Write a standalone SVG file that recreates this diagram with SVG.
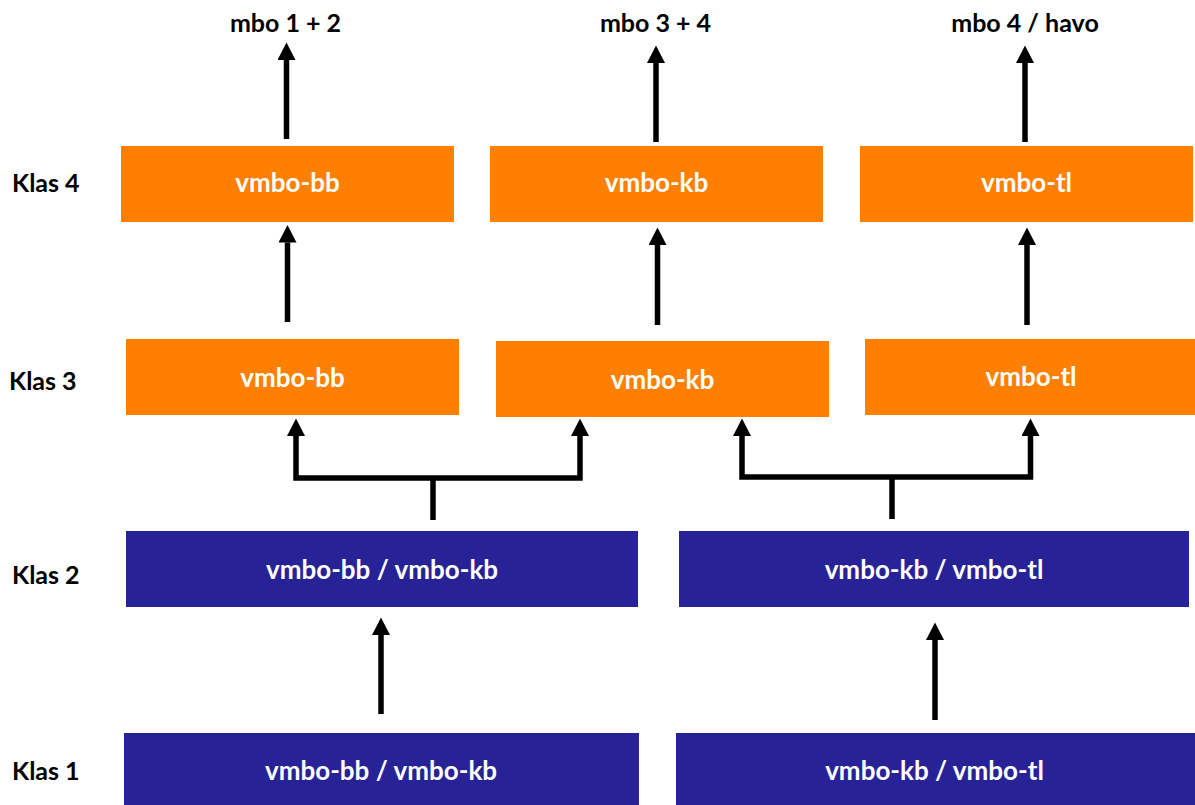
<svg xmlns="http://www.w3.org/2000/svg" width="1195" height="805" viewBox="0 0 1195 805">
<style>
  .or { fill: #FF7F00; }
  .bl { fill: #272296; }
  .bt { font-family: Lato, "Open Sans", sans-serif; font-weight: bold; font-size: 26px; fill: #FFFFFF; text-anchor: middle; }
  .lb { font-family: Lato, "Open Sans", sans-serif; font-weight: bold; font-size: 25px; fill: #000000; }
  .tp { font-family: Lato, "Open Sans", sans-serif; font-weight: bold; font-size: 25px; fill: #000000; text-anchor: middle; }
  .cn { fill: none; stroke: #000000; stroke-width: 5.5; stroke-linejoin: miter; stroke-linecap: butt; }
</style>
<defs>
  <marker id="ah" markerUnits="userSpaceOnUse" markerWidth="18" markerHeight="18" refX="0" refY="9" orient="auto-start-reverse">
    <path d="M0,0 L17.5,9 L0,18 Z" fill="#000000"/>
  </marker>
</defs>
<rect width="1195" height="805" fill="#FFFFFF"/>

<g id="labels">
  <text class="tp" x="285.5" y="32">mbo 1 + 2</text>
  <text class="tp" x="655.5" y="32">mbo 3 + 4</text>
  <text class="tp" x="1025" y="32">mbo 4 / havo</text>
  <text class="lb" x="12" y="192">Klas 4</text>
  <text class="lb" x="9" y="390">Klas 3</text>
  <text class="lb" x="12" y="584">Klas 2</text>
  <text class="lb" x="12" y="780">Klas 1</text>
</g>

<g id="k4-bb"><rect class="or" x="121" y="146" width="333" height="76"/><text class="bt" x="287.5" y="192">vmbo-bb</text></g>
<g id="k4-kb"><rect class="or" x="490" y="146" width="333" height="76"/><text class="bt" x="656.5" y="192">vmbo-kb</text></g>
<g id="k4-tl"><rect class="or" x="860" y="146" width="333" height="76"/><text class="bt" x="1026.5" y="192">vmbo-tl</text></g>

<g id="k3-bb"><rect class="or" x="126" y="339" width="333" height="76"/><text class="bt" x="292.5" y="387">vmbo-bb</text></g>
<g id="k3-kb"><rect class="or" x="496" y="341" width="333" height="76"/><text class="bt" x="662.5" y="389">vmbo-kb</text></g>
<g id="k3-tl"><rect class="or" x="865" y="339" width="330" height="76"/><text class="bt" x="1031" y="386">vmbo-tl</text></g>

<g id="k2-bbkb"><rect class="bl" x="126" y="531" width="512" height="76"/><text class="bt" x="382" y="579">vmbo-bb / vmbo-kb</text></g>
<g id="k2-kbtl"><rect class="bl" x="679" y="531" width="510" height="76"/><text class="bt" x="934" y="579">vmbo-kb / vmbo-tl</text></g>

<g id="k1-bbkb"><rect class="bl" x="124" y="733" width="515" height="72"/><text class="bt" x="381" y="780">vmbo-bb / vmbo-kb</text></g>
<g id="k1-kbtl"><rect class="bl" x="676" y="733" width="519" height="72"/><text class="bt" x="934.5" y="780">vmbo-kb / vmbo-tl</text></g>

<g id="connectors">
  <path class="cn" d="M286.5,139 V60" marker-end="url(#ah)"/>
  <path class="cn" d="M656,142 V63" marker-end="url(#ah)"/>
  <path class="cn" d="M1025,142 V63" marker-end="url(#ah)"/>

  <path class="cn" d="M287.5,322 V242.5" marker-end="url(#ah)"/>
  <path class="cn" d="M657.5,325 V245" marker-end="url(#ah)"/>
  <path class="cn" d="M1027,325 V245" marker-end="url(#ah)"/>

  <path class="cn" d="M296,436 V478 H580 V436" marker-start="url(#ah)" marker-end="url(#ah)"/>
  <path class="cn" d="M433,520 V478"/>
  <path class="cn" d="M742,436 V477 H1030.5 V436" marker-start="url(#ah)" marker-end="url(#ah)"/>
  <path class="cn" d="M892,519 V477"/>

  <path class="cn" d="M381,714 V635" marker-end="url(#ah)"/>
  <path class="cn" d="M935,720 V640" marker-end="url(#ah)"/>
</g>
</svg>
